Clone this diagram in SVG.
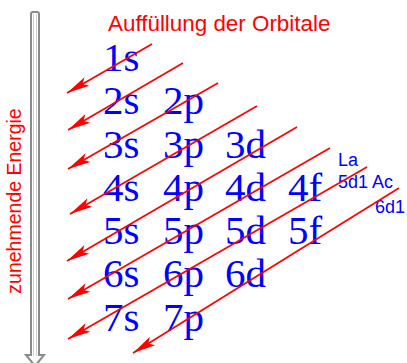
<svg xmlns="http://www.w3.org/2000/svg" width="407" height="363" viewBox="0 0 407 363">
<style>
.orb{font-family:"Liberation Serif","Times New Roman",serif;font-size:41px;fill:#0000ff}
.lbl{font-family:"Liberation Sans",Arial,sans-serif;font-size:18px;fill:#0000ff}
.red{font-family:"Liberation Sans",Arial,sans-serif;fill:#ff0000}
.conn line{stroke:#ff0000;stroke-width:1.7;marker-end:url(#ah)}
</style>
<defs>
<marker id="ah" markerUnits="userSpaceOnUse" markerWidth="23" markerHeight="11" refX="23" refY="5.5" orient="auto" overflow="visible">
<path d="M0,0.5 L23,5.5 L0,10.5 L5,5.5 Z" fill="#ff0000"/>
</marker>
</defs>
<rect width="407" height="363" fill="#ffffff"/>
<g id="energy-axis">
<path d="M31,14 Q31,12 33,12 L37,12 Q39,12 39,14 L39,355 L44,355 L35,366 L26,355 L31,355 Z" fill="#ffffff" stroke="#8a8a8a" stroke-width="2"/>
<line x1="33.5" y1="14" x2="33.5" y2="356" stroke="#cfcfcf" stroke-width="1"/>
<line x1="36.5" y1="14" x2="36.5" y2="356" stroke="#cfcfcf" stroke-width="1"/>
<text class="red" font-size="19.5" text-anchor="middle" transform="translate(21,201) rotate(-90)">zunehmende Energie</text>
</g>
<g id="title"><text class="red" x="108" y="31" font-size="22.4">Auffüllung der Orbitale</text></g>
<g id="row1"><text class="orb" x="103" y="71">1s</text></g>
<g id="row2"><text class="orb" x="103" y="114">2s</text><text class="orb" x="163" y="114">2p</text></g>
<g id="row3"><text class="orb" x="103" y="158">3s</text><text class="orb" x="163" y="158">3p</text><text class="orb" x="225" y="158">3d</text></g>
<g id="row4"><text class="orb" x="103" y="201">4s</text><text class="orb" x="163" y="201">4p</text><text class="orb" x="225" y="201">4d</text><text class="orb" x="288" y="201">4f</text></g>
<g id="row5"><text class="orb" x="103" y="244">5s</text><text class="orb" x="163" y="244">5p</text><text class="orb" x="225" y="244">5d</text><text class="orb" x="288" y="244">5f</text></g>
<g id="row6"><text class="orb" x="103" y="287">6s</text><text class="orb" x="163" y="287">6p</text><text class="orb" x="225" y="287">6d</text></g>
<g id="row7"><text class="orb" x="103" y="331">7s</text><text class="orb" x="163" y="331">7p</text></g>
<g id="notes">
<text class="lbl" x="338" y="166">La</text>
<text class="lbl" x="338" y="188">5d1 Ac</text>
<text class="lbl" x="375" y="213">6d1</text>
</g>
<g id="connectors" class="conn">
<line x1="152" y1="44" x2="67" y2="93"/>
<line x1="183" y1="63" x2="68" y2="130"/>
<line x1="218" y1="83" x2="68" y2="169"/>
<line x1="257" y1="106" x2="70" y2="214"/>
<line x1="297" y1="127" x2="67" y2="261"/>
<line x1="330" y1="148" x2="68" y2="299"/>
<line x1="367" y1="167" x2="68" y2="339"/>
<line x1="399" y1="188" x2="133" y2="353"/>
</g>
</svg>
